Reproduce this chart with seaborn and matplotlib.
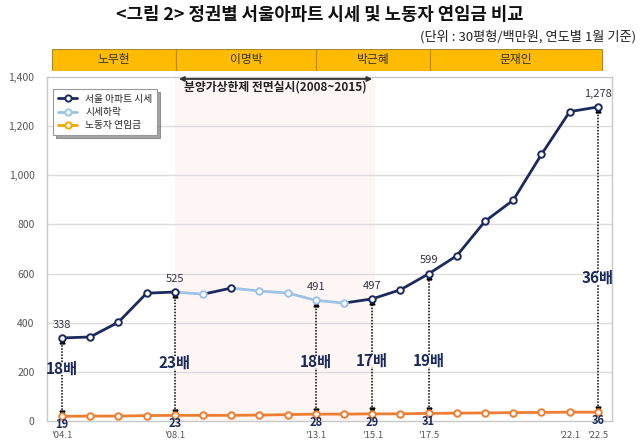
# -*- coding: utf-8 -*-
# 정권별 서울아파트 시세 및 노동자 연임금 비교
import numpy as np
import pandas as pd
import matplotlib.pyplot as plt
import seaborn as sns
from matplotlib.lines import Line2D
from matplotlib.patches import Rectangle

# ----------------------------------
# Datos
# ----------------------------------
periodos = ["'04.1", "'05", "'06", "'07", "'08.1", "'09", "'10", "'11", "'12", "'13.1",
            "'14", "'15.1", "'16", "'17.5", "'18", "'19", "'20", "'21", "'22.1", "'22.5"]
apt = [338, 342, 402, 520, 525, 516, 541, 529, 521, 491,
       480, 497, 534, 599, 673, 813, 899, 1085, 1259, 1278]
wage = [19, 20, 20, 22, 23, 23, 23, 24, 26, 28,
        28, 29, 29, 31, 32, 33, 34, 35, 36, 36]

idx_marcados = [0, 4, 9, 11, 13, 19]
ratios = ['18배', '23배', '18배', '17배', '19배', '36배']
ratio_y = [214, 238, 240, 244, 244, 582]
ticks_visibles = [0, 4, 9, 11, 13, 18, 19]

gobiernos = ['노무현', '이명박', '박근혜', '문재인']

NAVY = '#1B2A5C'
LIGHT = '#9DC3E6'
ORANGE = '#ED7D31'
GOLD = '#F5A800'

df = pd.DataFrame({'x': np.arange(len(apt)), 'apt': apt, 'wage': wage})

sns.set_theme(style='white')
plt.rcParams['font.family'] = ['Noto Sans CJK KR', 'DejaVu Sans']

fig = plt.figure(figsize=(6.4, 4.4), dpi=100)
L, R, B, T = 47 / 640, 612 / 640, 19 / 440, 363 / 440
ax = fig.add_axes([L, B, R - L, T - B])
xlim = (-0.53, 19.5)

# zona de 분양가상한제
ax.axvspan(4, 11.1, color='#FEF5F5', zorder=0, lw=0)
for v in range(200, 1400, 200):
    ax.axhline(v, color='#DCDCDC', lw=1, zorder=1)

# linea de salario
sns.lineplot(data=df, x='x', y='wage', color=ORANGE, lw=2, ax=ax, zorder=3)
ax.scatter(df['x'], df['wage'], s=22, facecolor='white', edgecolor=ORANGE, lw=1.4, zorder=4)

# linea de precio (tramos en baja en celeste)
for i in range(len(apt) - 1):
    c = LIGHT if apt[i + 1] < apt[i] else NAVY
    ax.plot([i, i + 1], [apt[i], apt[i + 1]], color=c, lw=2, zorder=3, solid_capstyle='round')
for i in range(len(apt)):
    c = LIGHT if (i > 0 and apt[i] < apt[i - 1]) else NAVY
    ax.scatter(i, apt[i], s=22, facecolor='white', edgecolor=c, lw=1.4, zorder=5)

# flechas punteadas y ratios
for i, r, ry in zip(idx_marcados, ratios, ratio_y):
    top = apt[i] - 14
    bot = wage[i] + 14
    ax.vlines(i, ry + 26, top, color='black', lw=1.1, linestyle=(0, (1, 1)), zorder=2)
    ax.vlines(i, bot, ry - 26, color='black', lw=1.1, linestyle=(0, (1, 1)), zorder=2)
    ax.plot(i, top, marker='^', ms=3.5, color='black', zorder=2)
    ax.plot(i, bot, marker='v', ms=3.5, color='black', zorder=2)
    ax.text(i, ry, r, ha='center', va='center', fontsize=11, fontweight='bold', color=NAVY, zorder=6)
    ax.annotate(f'{apt[i]:,}', (i, apt[i]), xytext=(0, 6), textcoords='offset points',
                ha='center', va='bottom', fontsize=8, color='#333344', zorder=6)
    ax.annotate(str(wage[i]), (i, wage[i]), xytext=(0, -1.5), textcoords='offset points',
                ha='center', va='top', fontsize=8, fontweight='bold', color=NAVY, zorder=6)

# flecha superior
ax.annotate('', xy=(11.1, 1392), xytext=(4.05, 1392),
            arrowprops=dict(arrowstyle='<|-|>', color='#333333', lw=1.3, mutation_scale=7), zorder=6)
ax.text(7.55, 1358, '분양가상한제 전면실시(2008~2015)', ha='center', va='center',
        fontsize=8.5, fontweight='bold', color='#222222')

ax.set_xlim(xlim)
ax.set_ylim(0, 1400)
ax.set_xticks(ticks_visibles)
ax.set_xticklabels([periodos[i] for i in ticks_visibles], fontsize=6.8, color='#555555')
ax.set_yticks(range(0, 1401, 200))
ax.set_yticklabels([f'{v:,}' for v in range(0, 1401, 200)], fontsize=7.5, color='#555555')
ax.tick_params(axis='x', length=0, pad=7.5)
ax.tick_params(axis='y', length=0, pad=9)
ax.set_xlabel('')
ax.set_ylabel('')
for s in ax.spines.values():
    s.set_color('#C8C8C8')
    s.set_linewidth(1)

handles = [Line2D([], [], color=NAVY, lw=2, marker='o', ms=4.5, mfc='white', mew=1.4),
           Line2D([], [], color=LIGHT, lw=2, marker='o', ms=4.5, mfc='white', mew=1.4),
           Line2D([], [], color=GOLD, lw=2, marker='o', ms=4.5, mfc='white', mew=1.4)]
leg = ax.legend(handles, ['서울 아파트 시세', '시세하락', '노동자 연임금'], loc='upper left',
                bbox_to_anchor=(0.002, 0.98), fontsize=7, frameon=True, fancybox=False,
                shadow=True, edgecolor='#999999', handlelength=2, borderpad=0.5,
                labelspacing=0.35, handletextpad=0.8)
leg.get_frame().set_linewidth(0.8)
leg.set_zorder(10)

# barra de gobiernos
axh = fig.add_axes([L, 1 - 71 / 440, R - L, 22 / 440])
axh.set_xlim(xlim)
axh.set_ylim(0, 1)
axh.axis('off')
limites = [-0.35, 4.05, 9.0, 13.05, 19.15]
for g, a, b in zip(gobiernos, limites[:-1], limites[1:]):
    axh.add_patch(Rectangle((a, 0), b - a, 1, facecolor='#FFBB00', edgecolor='#A88A2C', lw=0.8))
    axh.text((a + b) / 2, 0.5, g, ha='center', va='center', fontsize=8.5, color='#333333')

fig.text(0.5, 1 - 15 / 440, '<그림 2> 정권별 서울아파트 시세 및 노동자 연임금 비교',
         ha='center', va='center', fontsize=12.8, fontweight='bold', color='#111111')
fig.text(636 / 640, 1 - 37 / 440, '(단위 : 30평형/백만원, 연도별 1월 기준)',
         ha='right', va='center', fontsize=9.5, color='#222222')

fig.savefig('out.png', dpi=100)
